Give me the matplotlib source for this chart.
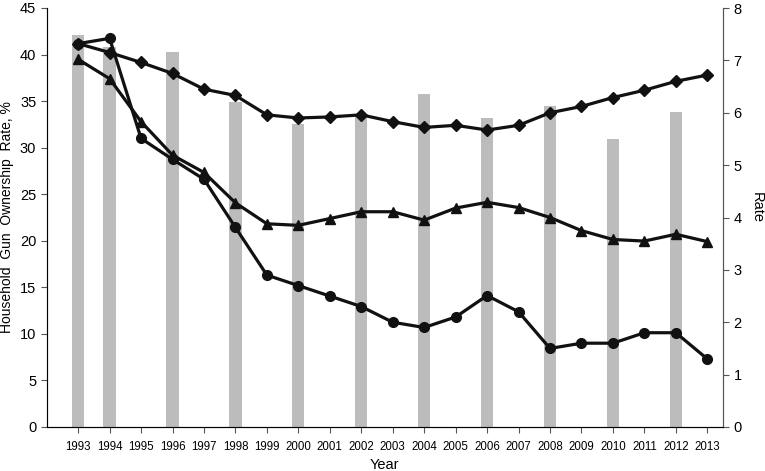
import matplotlib
matplotlib.use("Agg")
import matplotlib.pyplot as plt

plt.rcParams['font.family'] = ['Liberation Sans', 'DejaVu Sans']

# --- data ---
years = list(range(1993, 2014))
bar_years = [1993, 1994, 1996, 1998, 2000, 2002, 2004, 2006, 2008, 2010, 2012]
gun_ownership = [42.1, 40.8, 40.3, 34.9, 32.5, 33.5, 35.8, 33.2, 34.5, 30.9, 33.8]

rate_circle = [7.32, 7.42, 5.51, 5.11, 4.73, 3.81, 2.90, 2.70, 2.50, 2.30, 2.00,
               1.90, 2.10, 2.51, 2.20, 1.50, 1.60, 1.60, 1.80, 1.80, 1.30]
rate_diamond = [7.32, 7.15, 6.96, 6.75, 6.45, 6.33, 5.96, 5.90, 5.92, 5.96, 5.83,
                5.72, 5.76, 5.67, 5.76, 6.00, 6.12, 6.29, 6.43, 6.60, 6.72]
rate_triangle = [7.02, 6.65, 5.83, 5.19, 4.86, 4.28, 3.88, 3.85, 3.98, 4.11, 4.11,
                 3.95, 4.18, 4.29, 4.19, 4.00, 3.75, 3.58, 3.55, 3.68, 3.54]

# --- plot ---
fig = plt.figure(figsize=(7.65, 4.71), dpi=100)
ax = fig.add_axes([46.7 / 765, 44 / 471, (723 - 46.7) / 765, (427 - 8) / 471])
ax.bar(bar_years, gun_ownership, width=0.39, color='#bcbcbc', zorder=1)
ax.set_xlim(1992.0, 2013.5)
ax.set_ylim(0, 45)
ax.set_yticks(range(0, 46, 5))
ax.set_xticks(years)
ax.set_xticklabels([str(y) for y in years], fontsize=8.3)
ax.tick_params(axis='y', labelsize=10.5, length=4, color='#555555')
ax.tick_params(axis='x', length=4, pad=6, color='#555555')
ax.set_ylabel("Household  Gun  Ownership  Rate, %", fontsize=10, va='center')
ax.yaxis.set_label_coords(-0.058, 0.5)
ax.set_xlabel("Year", fontsize=10.5)
ax.xaxis.set_label_coords(0.5, -0.075)
ax.spines['top'].set_visible(False)
for s in ['left', 'bottom', 'right']:
    ax.spines[s].set_color('#555555')

ax2 = ax.twinx()
ax2.set_ylim(0, 8)
ax2.set_yticks(range(0, 9))
ax2.tick_params(axis='y', labelsize=10.5, length=4, color='#555555')
ax2.set_ylabel("Rate", fontsize=10.5, rotation=270, va='center')
ax2.yaxis.set_label_coords(1.05, 0.525)
ax2.spines['top'].set_visible(False)
ax2.spines['right'].set_color('#555555')

kw = dict(color='#111111', linewidth=2.3, markersize=7)
ax2.plot(years, rate_diamond, marker='D', markersize=6, color='#111111', linewidth=2.3)
ax2.plot(years, rate_triangle, marker='^', **kw)
ax2.plot(years, rate_circle, marker='o', **kw)

fig.savefig("out.png", dpi=100)
